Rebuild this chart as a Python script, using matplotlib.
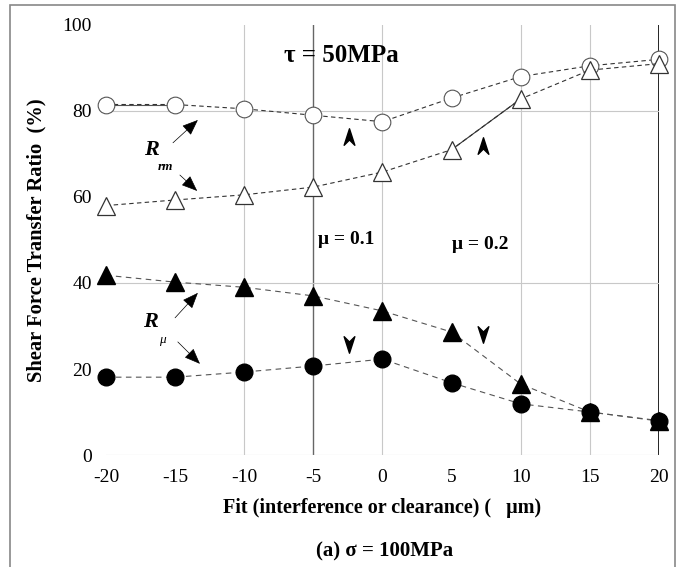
import numpy as np
import matplotlib.pyplot as plt
from matplotlib.path import Path
from matplotlib.patches import Rectangle

plt.rcParams['font.family'] = ['Liberation Serif', 'DejaVu Serif']
plt.rcParams['axes.unicode_minus'] = False

# data
fit = [-20, -15, -10, -5, 0, 5, 10, 15, 20]
rrm_mu01 = [81.5, 81.5, 80.5, 79.0, 77.5, 83.0, 88.0, 90.5, 92.0]   # open circles
rrm_mu02 = [58.0, 59.3, 60.5, 62.3, 65.8, 71.0, 82.8, 89.5, 91.0]   # open triangles
rmu_mu02 = [41.8, 40.2, 39.0, 37.0, 33.5, 28.6, 16.5, 10.0, 8.0]    # filled triangles
rmu_mu01 = [18.1, 18.1, 19.3, 20.7, 22.3, 16.8, 11.9, 10.0, 7.9]    # filled circles

yticks = [0, 20, 40, 60, 80, 100]
xticks = [-20, -15, -10, -5, 0, 5, 10, 15, 20]

fig = plt.figure(figsize=(6.79, 5.67), dpi=100)
ax = fig.add_axes([0.156, 0.1975, 0.8145, 0.7585])
ax.set_xlim(-20, 20)
ax.set_ylim(0, 100)

# grid (only some lines drawn in the original)
for gx in [-10, 0, 10, 15]:
    ax.plot([gx, gx], [0, 100], color='#c8c8c8', lw=0.8, zorder=1)
ax.plot([-5, -5], [0, 100], color='#666666', lw=1.0, zorder=1)
ax.plot([20, 20], [0, 100], color='black', lw=1.2, zorder=1)
for gy in [0, 40, 80]:
    ax.plot([-20, 20], [gy, gy], color='#c8c8c8', lw=0.8, zorder=1)

for s in ax.spines.values():
    s.set_visible(False)

ax.plot(fit, rrm_mu01, ls=(0, (4, 3)), lw=0.8, color='#333333', marker='o', ms=12,
        mfc='white', mec='#555555', mew=0.8, clip_on=False, zorder=3)
ax.plot(fit[:2], rrm_mu01[:2], ls='-', lw=0.8, color='#555555', zorder=2)
ax.plot(fit, rrm_mu02, ls=(0, (4, 3)), lw=0.8, color='#333333', marker='^', ms=13.5,
        mfc='white', mec='#333333', mew=0.9, clip_on=False, zorder=3)
ax.plot(fit[5:7], rrm_mu02[5:7], ls='-', lw=0.8, color='#333333', zorder=2)
ax.plot(fit, rmu_mu02, ls=(0, (5, 4)), lw=0.8, color='#555555', marker='^', ms=13.5,
        mfc='black', mec='black', clip_on=False, zorder=3)
ax.plot(fit, rmu_mu01, ls=(0, (5, 4)), lw=0.8, color='#555555', marker='o', ms=12,
        mfc='black', mec='black', clip_on=False, zorder=3)

ax.set_xticks(xticks)
ax.set_yticks(yticks)
ax.tick_params(length=0, labelsize=14, pad=10)

ax.set_ylabel('Shear Force Transfer Ratio  (%)', fontsize=14.8, fontweight='bold', labelpad=12)
ax.set_xlabel('Fit (interference or clearance) (   \u03bcm)', fontsize=14.5, fontweight='bold', labelpad=9)
fig.text(0.567, 0.028, '(a) \u03c3 = 100MPa', ha='center', va='center', fontsize=15, fontweight='bold')

ax.text(-3.0, 93, '\u03c4 = 50MPa', ha='center', va='center', fontsize=18, fontweight='bold')
ax.text(-2.6, 50, '\u03bc = 0.1', ha='center', va='center', fontsize=14, fontweight='bold')
ax.text(7.05, 49, '\u03bc = 0.2', ha='center', va='center', fontsize=14, fontweight='bold')

# R labels
ax.text(-16.7, 71, 'R', ha='center', va='center', fontsize=16, fontweight='bold', style='italic')
ax.text(-15.7, 67.0, 'rm', ha='center', va='center', fontsize=9.5, fontweight='bold', style='italic')
ax.text(-16.8, 31, 'R', ha='center', va='center', fontsize=16, fontweight='bold', style='italic')
ax.text(-15.9, 26.7, '\u03bc', ha='center', va='center', fontsize=9.5, style='italic')

arrows = [((-15.15, 72.6), (-13.35, 77.9)),
          ((-14.65, 65.1), (-13.4, 61.4)),
          ((-15.0, 31.9), (-13.35, 37.7)),
          ((-14.8, 26.3), (-13.2, 21.2))]
for start, end in arrows:
    ax.annotate('', xy=end, xytext=start,
                arrowprops=dict(arrowstyle='-|>,head_length=1.0,head_width=0.4',
                                color='black', lw=0.5, shrinkA=0, shrinkB=0))

# small chevron marks
chev = Path([(0, 1), (0.55, -0.7), (0, -0.15), (-0.55, -0.7), (0, 1)],
            [Path.MOVETO, Path.LINETO, Path.LINETO, Path.LINETO, Path.CLOSEPOLY])
chev_down = Path(chev.vertices * [1, -1], chev.codes)
ax.plot([-2.42, 7.27], [73.7, 71.6], ls='none', marker=chev, ms=14, color='black')
ax.plot([-2.42, 7.27], [26.0, 28.4], ls='none', marker=chev_down, ms=14, color='black')

# border around figure
fig.patches.append(Rectangle((10 / 679, -0.02), 665 / 679, 1 - 5 / 567 + 0.02,
                             transform=fig.transFigure, fill=False,
                             edgecolor='#888888', lw=1.2))

fig.savefig('out.png', dpi=100)
